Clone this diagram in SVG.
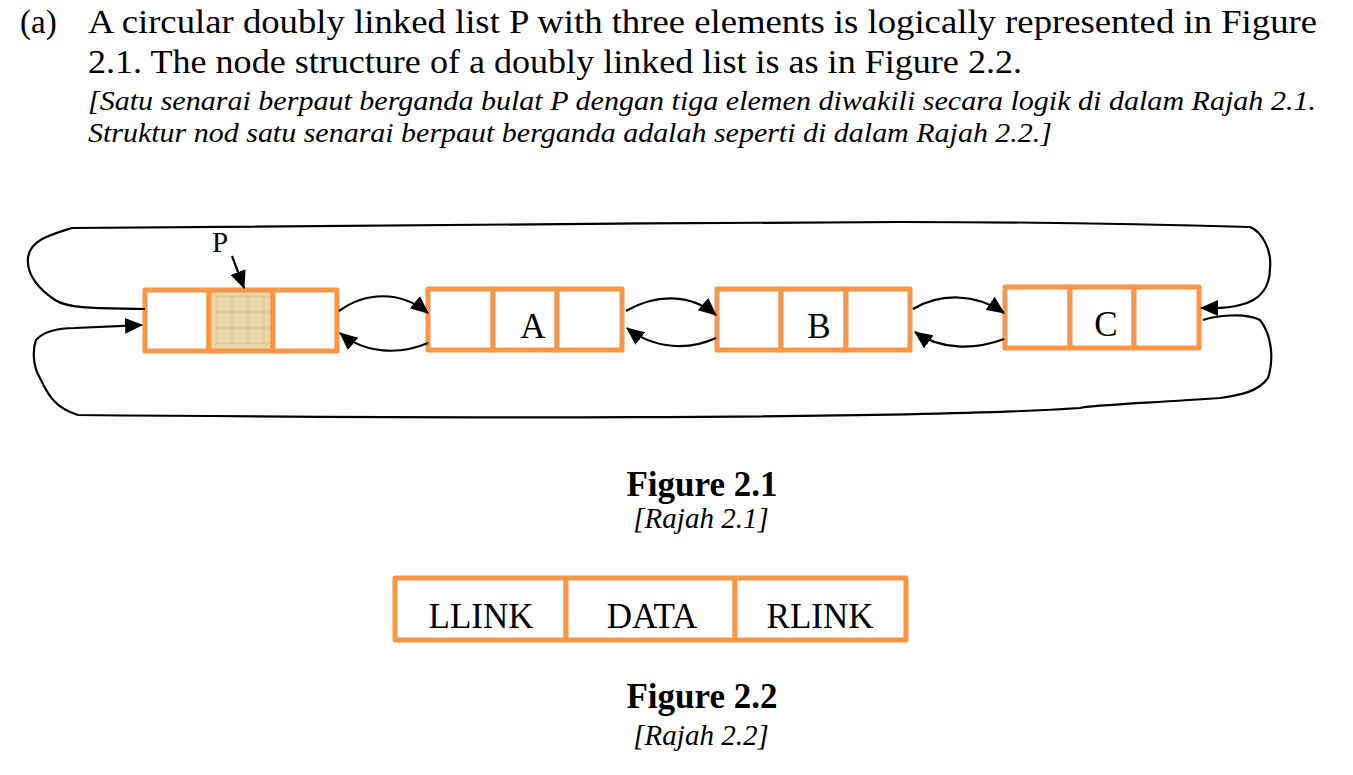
<svg xmlns="http://www.w3.org/2000/svg" width="1353" height="775" viewBox="0 0 1353 775">
<defs>
<marker id="ahb" markerWidth="18" markerHeight="16" refX="17" refY="8" orient="auto" markerUnits="userSpaceOnUse" viewBox="0 0 18 16">
<path d="M0,0 L18,8 L0,16 z" fill="#000"/>
</marker>
<pattern id="tex" width="16" height="16" patternUnits="userSpaceOnUse">
<rect width="16" height="16" fill="#EAD8AC"/>
<path d="M0,8 H16 M8,0 V16" stroke="#E0CB96" stroke-width="2" opacity="0.7"/>
</pattern>
</defs>
<style>
.cell{fill:#fff;stroke:#F79646;stroke-width:5;stroke-linejoin:round}
.t{font-family:"Liberation Serif","Times New Roman",serif;fill:#000}
.it{font-family:"Liberation Serif","Times New Roman",serif;font-style:italic;fill:#000}
.fig{font-family:"Liberation Serif","Times New Roman",serif;font-weight:bold;fill:#000;font-size:35px}
.lnk{fill:none;stroke:#000;stroke-width:2.2}
</style>
<rect width="1353" height="775" fill="#fff"/>

<g id="question">
<text class="t" x="20" y="33" font-size="33">(a)</text>
<text class="t" x="88" y="33" font-size="33" textLength="1229" lengthAdjust="spacingAndGlyphs">A circular doubly linked list P with three elements is logically represented in Figure</text>
<text class="t" x="88" y="73" font-size="33" textLength="934" lengthAdjust="spacingAndGlyphs">2.1. The node structure of a doubly linked list is as in Figure 2.2.</text>
<text class="it" x="88" y="110" font-size="28" textLength="1228" lengthAdjust="spacingAndGlyphs">[Satu senarai berpaut berganda bulat P dengan tiga elemen diwakili secara logik di dalam Rajah 2.1.</text>
<text class="it" x="88" y="142" font-size="28" textLength="964" lengthAdjust="spacingAndGlyphs">Struktur nod satu senarai berpaut berganda adalah seperti di dalam Rajah 2.2.]</text>
</g>

<g id="nodeP">
<rect class="cell" x="145" y="290" width="64" height="61"/>
<rect class="cell" x="209" y="290" width="64" height="61" style="fill:url(#tex)"/>
<rect class="cell" x="273" y="290" width="64" height="61"/>
</g>
<g id="labelP">
<text class="t" x="212" y="252" font-size="29">P</text>
</g>
<g id="nodeA">
<rect class="cell" x="428" y="289" width="65" height="61"/>
<rect class="cell" x="493" y="289" width="64" height="61"/>
<rect class="cell" x="557" y="289" width="65" height="61"/>
<text class="t" x="533" y="338" font-size="35" text-anchor="middle">A</text>
</g>
<g id="nodeB">
<rect class="cell" x="717" y="289" width="64" height="61"/>
<rect class="cell" x="781" y="289" width="65" height="61"/>
<rect class="cell" x="846" y="289" width="64" height="61"/>
<text class="t" x="819" y="338" font-size="35" text-anchor="middle">B</text>
</g>
<g id="nodeC">
<rect class="cell" x="1005" y="287" width="65" height="61"/>
<rect class="cell" x="1070" y="287" width="64" height="61"/>
<rect class="cell" x="1134" y="287" width="65" height="61"/>
<text class="t" x="1106" y="336" font-size="35" text-anchor="middle">C</text>
</g>

<g id="connectors">
<path class="lnk" d="M232,256 L244,288" marker-end="url(#ahb)"/>
<path class="lnk" d="M339,311 C365,292 400,290 428,313" marker-end="url(#ahb)"/>
<path class="lnk" d="M428,343 C400,355 365,354 340,333" marker-end="url(#ahb)"/>
<path class="lnk" d="M626,311 C655,294 690,293 716,315" marker-end="url(#ahb)"/>
<path class="lnk" d="M716,338 C690,350 655,350 627,328" marker-end="url(#ahb)"/>
<path class="lnk" d="M913,309 C940,293 975,293 1004,313" marker-end="url(#ahb)"/>
<path class="lnk" d="M1004,339 C975,350 940,350 915,332" marker-end="url(#ahb)"/>
<path class="lnk" d="M145,309 C110,308 70,310 55,300 C40,290 26,275 28,258 C30,240 50,235 72,228 C200,225 600,224 900,222 C1000,222 1150,224 1250,227 C1262,232 1272,250 1270,268 C1270,285 1262,300 1240,305 C1228,309 1215,308 1201,308" marker-end="url(#ahb)"/>
<path class="lnk" d="M1203,320 C1215,316 1245,312 1260,320 C1272,335 1274,360 1268,378 C1258,392 1240,395 1220,398 C1150,403 1090,405 1080,408 C900,420 400,418 78,415 C55,408 48,395 40,378 C32,365 33,348 36,340 C45,330 60,328 75,328 C100,327 120,326 142,325" marker-end="url(#ahb)"/>
</g>

<g id="caption1">
<text class="fig" x="702" y="496" text-anchor="middle">Figure 2.1</text>
<text class="it" x="701" y="528" font-size="29" text-anchor="middle">[Rajah 2.1]</text>
</g>

<g id="nodeStructure">
<rect class="cell" x="395" y="578" width="171" height="62"/>
<rect class="cell" x="566" y="578" width="169" height="62"/>
<rect class="cell" x="735" y="578" width="171" height="62"/>
<text class="t" x="481" y="628" font-size="35" text-anchor="middle">LLINK</text>
<text class="t" x="652" y="628" font-size="35" text-anchor="middle">DATA</text>
<text class="t" x="820" y="628" font-size="35" text-anchor="middle">RLINK</text>
</g>

<g id="caption2">
<text class="fig" x="702" y="708" text-anchor="middle">Figure 2.2</text>
<text class="it" x="701" y="745" font-size="29" text-anchor="middle">[Rajah 2.2]</text>
</g>
</svg>
